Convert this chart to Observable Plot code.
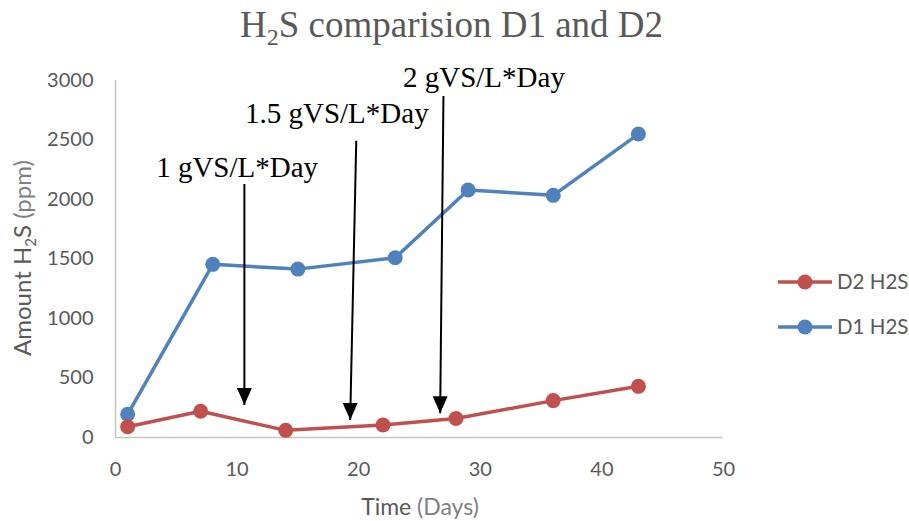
<!DOCTYPE html>
<html>
<head>
<meta charset="utf-8">
<script src="https://cdn.jsdelivr.net/npm/d3@7"></script>
<script src="https://cdn.jsdelivr.net/npm/@observablehq/plot@0.6"></script>
<style>
  html, body { margin: 0; padding: 0; background: #ffffff; }
  #chart { width: 909px; height: 521px; }
</style>
</head>
<body>
<div id="chart"></div>
<script>
// ---- data ----
const xTicks = [0, 10, 20, 30, 40, 50];
const yTicks = [0, 500, 1000, 1500, 2000, 2500, 3000];

const seriesNames = ["D2 H2S", "D1 H2S"];
const seriesColors = ["#C0504D", "#4F81BD"];

const d2Days = [1, 7, 14, 22, 28, 36, 43];
const d2Values = [90, 220, 60, 105, 160, 310, 430];

const d1Days = [1, 8, 15, 23, 29, 36, 43];
const d1Values = [195, 1455, 1415, 1510, 2080, 2035, 2550];

const annotationLabels = ["1 gVS/L*Day", "1.5 gVS/L*Day", "2 gVS/L*Day"];
const labelDays = [10.0, 18.2, 30.3];
const labelValues = [2189, 2640, 2948];
const arrowTopDays = [10.6, 19.8, 26.97];
const arrowTopValues = [2130, 2494, 2870];
const arrowTipDays = [10.6, 19.3, 26.7];
const arrowTipValues = [273, 147, 203];

const titleParts = ["H", "2", "S comparision D1 and D2"];
const yLabelParts = ["Amount H", "2", "S", " (ppm)"];
const xLabelParts = ["Time", " (Days)"];

// ---- tables ----
const d2 = d2Days.map((x, i) => ({x, y: d2Values[i]}));
const d1 = d1Days.map((x, i) => ({x, y: d1Values[i]}));
const labels = annotationLabels.map((t, i) => ({t, x: labelDays[i], y: labelValues[i]}));
const arrows = annotationLabels.map((t, i) => ({
  x1: arrowTopDays[i], y1: arrowTopValues[i], x2: arrowTipDays[i], y2: arrowTipValues[i]
}));

const arrowHead = {
  draw(ctx) {
    ctx.moveTo(0, 0);
    ctx.lineTo(-7.5, -17);
    ctx.lineTo(7.5, -17);
    ctx.closePath();
  }
};

const axisColor = "#c6c6c6";
const textColor = "#595959";
const lightText = "#7f7f7f";

const chart = Plot.plot({
  width: 909,
  height: 521,
  marginLeft: 115,
  marginRight: 186,
  marginTop: 80,
  marginBottom: 84,
  style: {fontFamily: "Lato, sans-serif", fontSize: "20px", color: textColor, background: "#ffffff"},
  x: {domain: [0, 50]},
  y: {domain: [0, 3000]},
  marks: [
    Plot.ruleY([0], {stroke: axisColor, strokeWidth: 1.5}),
    Plot.ruleX([0], {stroke: axisColor, strokeWidth: 1.5}),
    Plot.axisX({ticks: xTicks, tickSize: 0, tickPadding: 24, label: null, fill: textColor, tickFormat: d3.format("d")}),
    Plot.axisY({ticks: yTicks, tickSize: 0, tickPadding: 22, label: null, fill: textColor, tickFormat: d3.format("d")}),
    Plot.line(d1, {x: "x", y: "y", stroke: seriesColors[1], strokeWidth: 3.5}),
    Plot.dot(d1, {x: "x", y: "y", r: 7.5, fill: seriesColors[1], stroke: "none"}),
    Plot.line(d2, {x: "x", y: "y", stroke: seriesColors[0], strokeWidth: 3.5}),
    Plot.dot(d2, {x: "x", y: "y", r: 7.5, fill: seriesColors[0], stroke: "none"}),
    Plot.link(arrows, {x1: "x1", y1: "y1", x2: "x2", y2: "y2", stroke: "#000000", strokeWidth: 2}),
    Plot.dot(arrows, {x: "x2", y: "y2", symbol: arrowHead, r: 5, fill: "#000000", stroke: "none"}),
    Plot.text(labels, {x: "x", y: "y", text: "t", fontFamily: "'Liberation Serif', 'Times New Roman', serif",
      fontSize: 29, fill: "#000000", textAnchor: "middle", lineAnchor: "bottom"})
  ]
});

document.getElementById("chart").append(chart);

// ---- title, axis titles, legend ----
const svg = d3.select(chart);

const title = svg.append("text")
  .attr("x", 451.5).attr("y", 36.7)
  .attr("text-anchor", "middle")
  .attr("font-family", "'Liberation Serif', 'Times New Roman', serif")
  .attr("font-size", 37)
  .attr("fill", textColor);
title.append("tspan").text(titleParts[0]);
title.append("tspan").attr("font-size", 24).attr("dy", 8).text(titleParts[1]);
title.append("tspan").attr("dy", -8).text(titleParts[2]);

const yLab = svg.append("text")
  .attr("transform", "translate(31,258) rotate(-90)")
  .attr("text-anchor", "middle")
  .attr("font-family", "Lato, sans-serif")
  .attr("font-size", 24)
  .attr("fill", textColor);
yLab.append("tspan").text(yLabelParts[0]);
yLab.append("tspan").attr("font-size", 15).attr("dy", 5).text(yLabelParts[1]);
yLab.append("tspan").attr("dy", -5).text(yLabelParts[2]);
yLab.append("tspan").attr("fill", lightText).text(yLabelParts[3]);

const xLab = svg.append("text")
  .attr("x", 420).attr("y", 515)
  .attr("text-anchor", "middle")
  .attr("font-family", "Lato, sans-serif")
  .attr("font-size", 23)
  .attr("fill", textColor);
xLab.append("tspan").text(xLabelParts[0]);
xLab.append("tspan").attr("fill", lightText).text(xLabelParts[1]);

const legendY = [282, 327];
seriesNames.forEach((name, i) => {
  const g = svg.append("g").attr("transform", `translate(0,${legendY[i]})`);
  g.append("line").attr("x1", 778).attr("x2", 832).attr("y1", 0).attr("y2", 0)
    .attr("stroke", seriesColors[i]).attr("stroke-width", 3.5);
  g.append("circle").attr("cx", 805).attr("cy", 0).attr("r", 7.5).attr("fill", seriesColors[i]);
  g.append("text").attr("x", 837).attr("y", 7)
    .attr("text-anchor", "start")
    .attr("font-family", "Lato, sans-serif").attr("font-size", 20.5)
    .attr("fill", textColor).text(name);
});
</script>
</body>
</html>
